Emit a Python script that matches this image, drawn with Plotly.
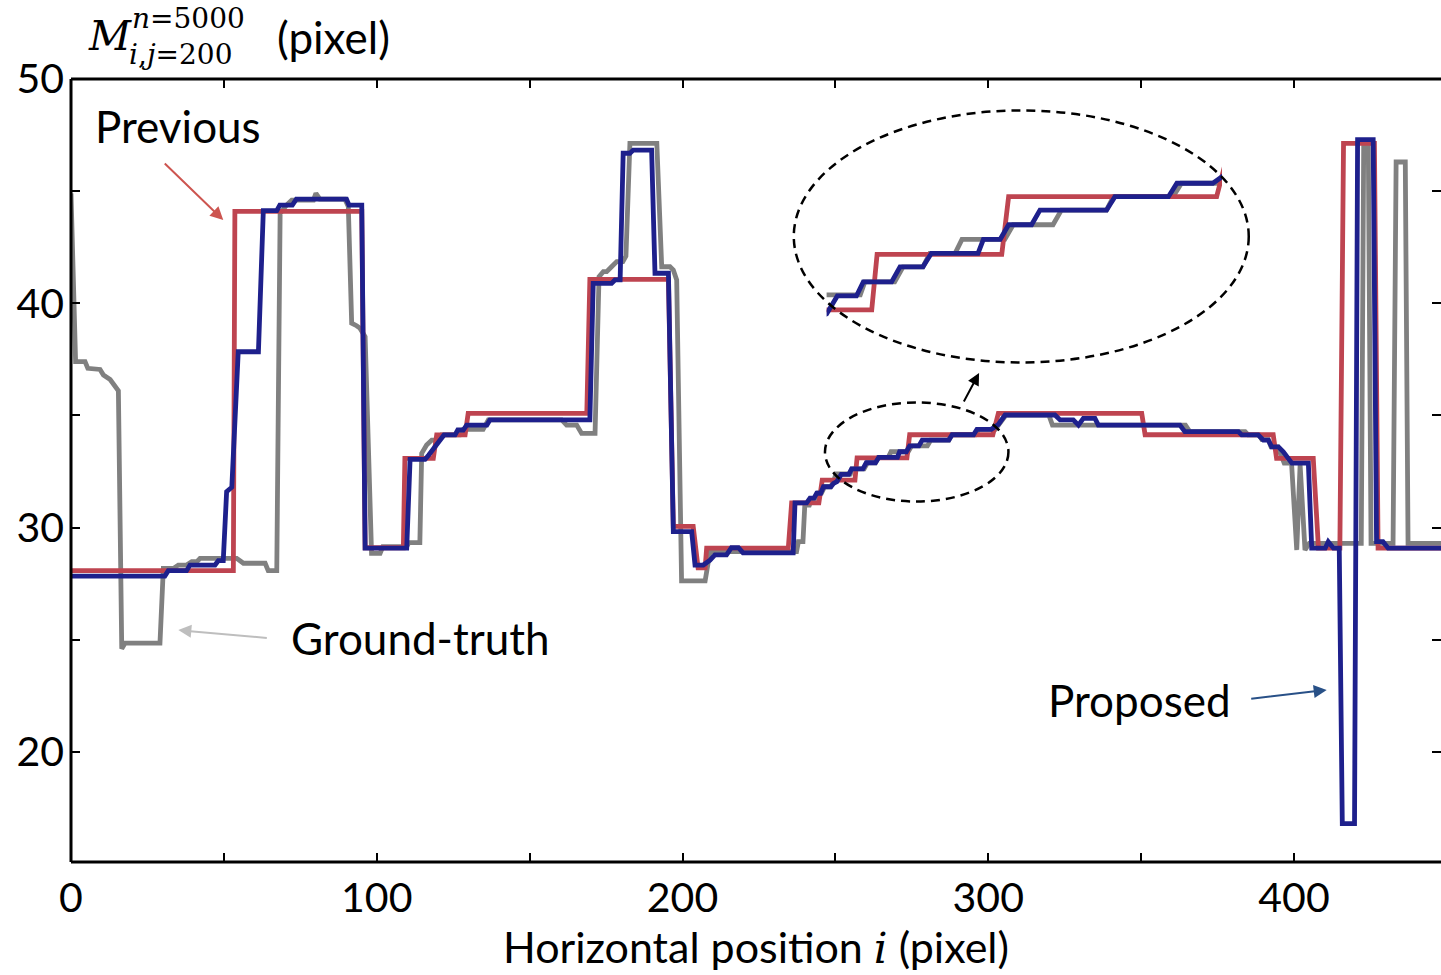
import plotly.graph_objects as go

# ---------------- data ----------------
GT_X = [0, 1.5, 4.6, 5.5, 9.5, 10.6, 12.8, 14.4, 15.5, 16.6, 17.7, 29.1, 30.2, 33.5, 35.1, 37.8,
        39.5, 41.2, 42.2, 54.2, 56.4, 63.5, 64.5, 67.3, 68.4, 70.5, 72.2, 79.3, 80.1, 81.4, 89.6,
        90.7, 91.8, 93.4, 94.5, 96.2, 98.3, 101.1, 102, 109.8, 110.5, 114.1, 114.7, 116.3, 118,
        120.2, 121.2, 127.2, 128.3, 134.8, 136.5, 160.5, 162.1, 165.4, 167, 171.4, 172.7, 174.1,
        175.2, 176.8, 178.5, 180.5, 181.5, 182.8, 191.6, 193.2, 195.9, 197, 198.1, 199.7, 207.4,
        209, 237.3, 237.9, 239.4, 240, 241.5, 242.3, 243.5, 244.3, 245.5, 246.5, 248.5, 249.5,
        250.2, 254.9, 255.5, 259.4, 260.5, 263.1, 264, 267.3, 268.2, 273.8, 274.9, 280.1, 281.2,
        287.1, 288, 295.8, 296.9, 302.3, 303.6, 305.8, 319.8, 321, 364.5, 365.9, 384, 385, 388.6,
        389.5, 391.6, 392.5, 394.7, 395.6, 396.8, 399.2, 400.9, 402, 403.6, 405, 422, 422.8,
        424.3, 425.2, 432.4, 433.4, 436.4, 437.3, 448.1]
GT_Y = [44.9, 37.4, 37.4, 37.1, 37.05, 36.8, 36.6, 36.3, 36.1, 24.6, 24.85, 24.85, 28.18, 28.18,
        28.33, 28.33, 28.48, 28.48, 28.63, 28.63, 28.41, 28.41, 28.08, 28.08, 44.0, 44.38, 44.6,
        44.6, 44.9, 44.64, 44.64, 44.31, 39.11, 39.0, 38.89, 38.51, 28.85, 28.85, 29.15, 29.15,
        29.33, 29.33, 33.31, 33.68, 33.9, 33.9, 34.13, 34.13, 34.38, 34.38, 34.8, 34.8, 34.57,
        34.57, 34.2, 34.2, 41.19, 41.41, 41.41, 41.63, 41.86, 41.86, 42.1, 47.13, 47.13, 41.63,
        41.63, 41.48, 41.04, 27.62, 27.62, 28.93, 28.93, 29.37, 29.37, 31.0, 31.0, 31.3, 31.3,
        31.55, 31.55, 31.82, 31.82, 32.1, 32.39, 32.39, 32.62, 32.62, 32.89, 32.89, 33.13, 33.13,
        33.38, 33.38, 33.64, 33.64, 33.9, 33.9, 34.14, 34.14, 34.38, 34.38, 34.6, 35.02, 35.02,
        34.57, 34.57, 34.28, 34.28, 34.13, 34.13, 33.92, 33.92, 33.6, 33.6, 33.3, 32.87, 32.87,
        29.0, 32.8, 29.0, 29.3, 29.3, 47.13, 47.13, 29.3, 29.3, 46.3, 46.3, 29.3, 29.3]

PREV_X = [0, 53.1, 53.6, 95.1, 96.2, 108.7, 109.2, 118.5, 119.6, 128.9, 129.9, 168.7, 169.7,
          195.4, 197, 203.5, 205.1, 207.4, 207.9, 234.6, 235.7, 244.6, 245.7, 256.4, 257.1,
          273.4, 274.3, 301.5, 303.3, 350.2, 351.3, 393.2, 394.3, 406.3, 408, 415, 416.2, 426.3,
          427.5, 448.1]
PREV_Y = [28.08, 28.08, 44.1, 44.1, 29.1, 29.1, 33.09, 33.09, 34.13, 34.13, 35.09, 35.09, 41.07,
          41.07, 30.05, 30.05, 28.2, 28.2, 29.08, 29.08, 31.1, 31.1, 32.12, 32.12, 33.11, 33.11,
          34.14, 34.14, 35.09, 35.09, 34.14, 34.14, 33.09, 33.09, 29.08, 29.08, 47.13, 47.13,
          29.08, 29.08]

PROP_X = [0, 30.7, 31.8, 37.8, 38.9, 47.1, 48.2, 49.8, 50.9, 52.6, 54.7, 61.3, 62.9, 67.3, 68.3,
          72.4, 73.7, 90.1, 90.9, 95.1, 96.2, 109.8, 110.9, 115.8, 117, 119.3, 120.8, 122, 125.6,
          126.5, 128.3, 129.4, 136, 137, 169.7, 170.8, 176.8, 177.9, 179.6, 180.6, 182.8, 183.9,
          189.9, 191, 195.4, 197, 203, 204.1, 206.8, 209, 210.6, 214.4, 216, 218.3, 219.8, 236.2,
          236.8, 240.6, 241.7, 243, 243.9, 245.2, 246.1, 248.5, 249.4, 250.5, 251.9, 254.4, 255.3,
          259, 260.1, 263.1, 264.2, 270.3, 271, 273.2, 274.3, 277.3, 278.4, 287.1, 288.2, 295.2,
          296.3, 301, 303.3, 305.5, 321.8, 323.5, 327.8, 329.5, 331.1, 334.9, 336, 362.7, 364.3,
          381.8, 382.9, 388.3, 390, 391.6, 392.7, 394.9, 396.5, 397.6, 399.3, 404.7, 405.8, 410.2,
          411.2, 412.9, 414.8, 415.8, 419.8, 420.8, 425.9, 427, 429.1, 430.8, 448.1]
PROP_Y = [27.84, 27.84, 28.08, 28.08, 28.33, 28.33, 28.53, 28.53, 31.6, 31.8, 37.84, 37.84, 44.13,
          44.13, 44.38, 44.38, 44.64, 44.64, 44.38, 44.38, 29.08, 29.08, 33.04, 33.04, 33.24,
          33.68, 33.9, 34.13, 34.13, 34.35, 34.35, 34.57, 34.57, 34.8, 34.8, 40.89, 40.89, 41.04,
          41.04, 46.69, 46.69, 46.83, 46.83, 41.34, 41.34, 29.82, 29.82, 28.33, 28.33, 28.55,
          28.78, 28.78, 29.1, 29.1, 28.87, 28.87, 31.1, 31.1, 31.31, 31.31, 31.53, 31.53, 31.82,
          31.82, 31.97, 32.05, 32.37, 32.37, 32.62, 32.62, 32.89, 32.89, 33.13, 33.13, 33.38,
          33.38, 33.64, 33.64, 33.9, 33.9, 34.14, 34.14, 34.38, 34.38, 34.6, 35.02, 35.02, 34.8,
          34.8, 34.57, 34.87, 34.87, 34.57, 34.57, 34.28, 34.28, 34.13, 34.13, 33.9, 33.9, 33.6,
          33.6, 33.38, 33.16, 32.87, 32.87, 29.08, 29.08, 29.37, 29.08, 29.08, 16.8, 16.8, 47.3,
          47.3, 29.37, 29.37, 29.08, 29.08]

X_TICKS = [0, 50, 100, 150, 200, 250, 300, 350, 400]
X_LABELS = ["0", "", "100", "", "200", "", "300", "", "400"]
Y_TICKS = [20, 25, 30, 35, 40, 45, 50]
Y_LABELS = ["20", "", "30", "", "40", "", "50"]
X_RANGE = [0, 448.08]
Y_RANGE = [15.09, 50]
INSET_X_RANGE = [250.5, 302.2]
INSET_Y_RANGE = [32.0, 34.7]

GRAY = "rgb(128,128,128)"
RED = "rgb(190,68,80)"
BLUE = "rgb(30,32,140)"
FONT = "Lato"
LW = 4.8

series = [("Ground-truth", GT_X, GT_Y, GRAY), ("Previous", PREV_X, PREV_Y, RED),
          ("Proposed", PROP_X, PROP_Y, BLUE)]

fig = go.Figure()
for name, xs, ys, col in series:
    fig.add_trace(go.Scatter(x=xs, y=ys, mode="lines", name=name,
                             line=dict(color=col, width=LW), showlegend=False))
# magnified inset (same data, zoomed axes)
for name, xs, ys, col in series:
    fig.add_trace(go.Scatter(x=xs, y=ys, mode="lines", name=name + " (zoom)",
                             line=dict(color=col, width=LW), showlegend=False,
                             xaxis="x2", yaxis="y2"))

W, H = 1441, 975
ML, MR, MT, MB = 71, 0, 79, 113
PW, PH = W - ML - MR, H - MT - MB


def px2paper(px, py):
    return (px - ML) / PW, (H - MB - py) / PH


ix0, iy0 = px2paper(826.6, 316.7)
ix1, iy1 = px2paper(1222.0, 165.3)

axis_common = dict(ticks="inside", ticklen=9, tickwidth=2, tickcolor="black",
                   showline=False, mirror="ticks", showgrid=False, zeroline=False,
                   automargin=False,
                   tickfont=dict(family=FONT, size=41, color="black"))

fig.update_layout(
    width=W, height=H, margin=dict(l=ML, r=MR, t=MT, b=MB, autoexpand=False),
    paper_bgcolor="white", plot_bgcolor="rgba(0,0,0,0)",
    xaxis=dict(range=X_RANGE, tickvals=X_TICKS, ticktext=X_LABELS,
               ticklabelstandoff=8, **axis_common),
    yaxis=dict(range=Y_RANGE, tickvals=Y_TICKS, ticktext=Y_LABELS,
               ticklabelstandoff=6, **axis_common),
    xaxis2=dict(domain=[ix0, ix1], range=INSET_X_RANGE, visible=False, anchor="y2"),
    yaxis2=dict(domain=[iy0, iy1], range=INSET_Y_RANGE, visible=False, anchor="x2"),
)

shapes = [
    dict(type="line", xref="paper", yref="paper", x0=0, x1=0, y0=0, y1=1,
         line=dict(color="black", width=3)),
    dict(type="line", xref="paper", yref="paper", x0=0, x1=1, y0=0, y1=0,
         line=dict(color="black", width=3)),
    dict(type="line", xref="paper", yref="paper", x0=0, x1=1, y0=1, y1=1,
         line=dict(color="black", width=3)),
    dict(type="circle", xref="x", yref="y", x0=236.4, x1=385.2, y0=37.36, y1=48.6,
         line=dict(color="black", width=2.5, dash="9px,6px")),
    dict(type="circle", xref="x", yref="y", x0=246.6, x1=306.6, y0=31.16, y1=35.58,
         line=dict(color="black", width=2.5, dash="9px,6px")),
]
fig.update_layout(shapes=shapes)

ann = []
# arrows
ann.append(dict(x=49.8, y=43.71, xref="x", yref="y", ax=-60, ay=-58, text="", showarrow=True,
                arrowhead=2, arrowsize=1.3, arrowwidth=2, arrowcolor="rgb(205,85,80)"))
ann.append(dict(x=35.1, y=25.43, xref="x", yref="y", ax=90, ay=8, text="", showarrow=True,
                arrowhead=2, arrowsize=1.3, arrowwidth=2, arrowcolor="rgb(190,190,190)"))
ann.append(dict(x=410.7, y=22.76, xref="x", yref="y", ax=-77, ay=9, text="", showarrow=True,
                arrowhead=2, arrowsize=1.3, arrowwidth=2, arrowcolor="rgb(40,80,135)"))
ann.append(dict(x=297.0, y=36.89, xref="x", yref="y", ax=-16, ay=30, text="", showarrow=True,
                arrowhead=2, arrowsize=1.2, arrowwidth=2, arrowcolor="black"))
# labels
lab_font = dict(family=FONT, size=44, color="black")
ann.append(dict(x=7.2, y=47.9, xref="x", yref="y", text="Previous", showarrow=False,
                xanchor="left", yanchor="middle", font=lab_font))
ann.append(dict(x=71.3, y=25.08, xref="x", yref="y", text="Ground-truth", showarrow=False,
                xanchor="left", yanchor="middle", font=lab_font))
ann.append(dict(x=318.9, y=22.31, xref="x", yref="y", text="Proposed", showarrow=False,
                xanchor="left", yanchor="middle", font=lab_font))

# y-axis title (stacked super/subscript built from pieces)
SERIF = "DejaVu Serif"
px_, py_ = px2paper(110, 36)
ann.append(dict(x=px_, y=py_, xref="paper", yref="paper", text="<i>M</i>", showarrow=False,
                xanchor="center", yanchor="middle",
                font=dict(family=SERIF, size=41, color="black")))
px_, py_ = px2paper(131, 18.5)
ann.append(dict(x=px_, y=py_, xref="paper", yref="paper", text="<i>n</i>=5000", showarrow=False,
                xanchor="left", yanchor="middle", borderpad=0,
                font=dict(family=SERIF, size=28, color="black")))
px_, py_ = px2paper(128, 54)
ann.append(dict(x=px_, y=py_, xref="paper", yref="paper", text="<i>i</i>,<i>j</i>=200",
                showarrow=False, xanchor="left", yanchor="middle", borderpad=0,
                font=dict(family=SERIF, size=28, color="black")))
px_, py_ = px2paper(275, 37)
ann.append(dict(x=px_, y=py_, xref="paper", yref="paper", text="(pixel)", showarrow=False,
                xanchor="left", yanchor="middle", font=dict(family=FONT, size=44, color="black")))

# x-axis title
px_, py_ = px2paper(756, 947)
ann.append(dict(x=px_, y=py_, xref="paper", yref="paper",
                text='Horizontal position <span style="font-family:DejaVu Serif"><i>i</i></span> (pixel)',
                showarrow=False, xanchor="center", yanchor="middle", borderpad=0,
                font=dict(family=FONT, size=43, color="black")))
fig.update_layout(annotations=ann)

fig.write_html("out.html", config={"displayModeBar": False},
               post_script="document.body.style.margin='0';document.body.style.overflow='hidden';")
